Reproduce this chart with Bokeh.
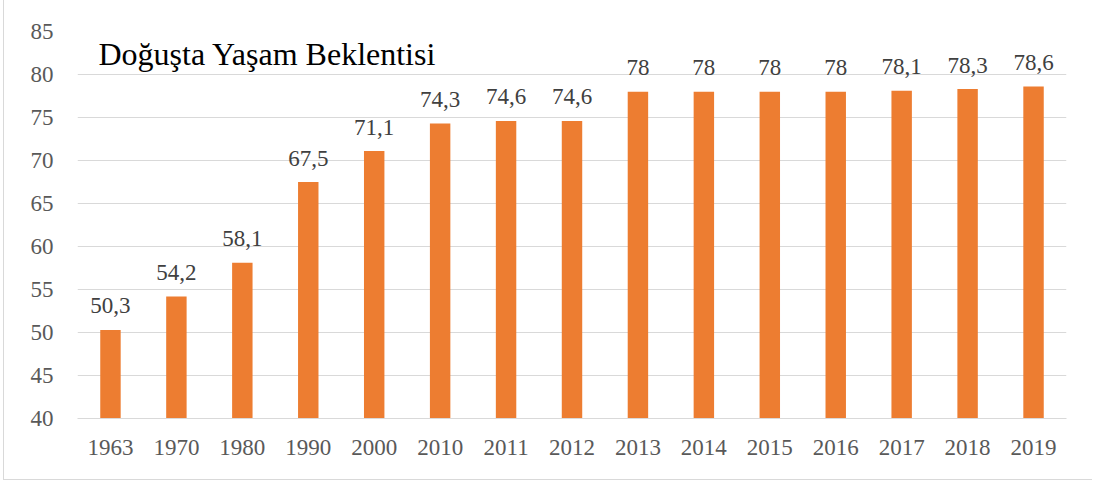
from bokeh.plotting import figure
from bokeh.models import ColumnDataSource, FixedTicker, Label, Range1d, FactorRange
from bokeh.embed import file_html
from bokeh.resources import INLINE
from bokeh.core.properties import value

years = ["1963", "1970", "1980", "1990", "2000", "2010", "2011", "2012",
         "2013", "2014", "2015", "2016", "2017", "2018", "2019"]
life_exp = [50.3, 54.2, 58.1, 67.5, 71.1, 74.3, 74.6, 74.6,
            78.0, 78.0, 78.0, 78.0, 78.1, 78.3, 78.6]
y_ticks = [40, 45, 50, 55, 60, 65, 70, 75, 80, 85]
title_text = "Doğuşta Yaşam Beklentisi"

labels = [f"{v:g}".replace(".", ",") for v in life_exp]
src = ColumnDataSource(dict(year=years, val=life_exp, lab=labels))

FONT = "'Liberation Serif', 'Times New Roman', serif"

p = figure(x_range=FactorRange(*years, range_padding=0), y_range=Range1d(40, 85),
           width=1089, height=480, output_backend="svg", toolbar_location=None,
           min_border_left=73, min_border_right=27, min_border_top=31, min_border_bottom=62)
p.x_range.range_padding = 0
p.outline_line_color = None
p.background_fill_color = "white"
p.border_fill_color = "white"
p.styles = {"border-left": "1px solid #d9d9d9", "border-bottom": "1px solid #d9d9d9",
            "margin-left": "3px"}

p.vbar(x="year", top="val", bottom=40, width=0.31, source=src,
       fill_color="#ED7D31", line_color=None)

p.text(x="year", y="val", text="lab", source=src, text_align="center",
       text_baseline="alphabetic", y_offset=-24, text_font=value(FONT),
       text_font_size="23px", text_color="#404040")

p.add_layout(Label(x=0.318, y=82.4, text=title_text, text_font=FONT,
                   text_font_size="32px", text_color="#000000",
                   text_baseline="alphabetic", text_align="left"))

p.yaxis.ticker = FixedTicker(ticks=y_ticks)
p.ygrid.ticker = FixedTicker(ticks=y_ticks)
p.ygrid.grid_line_color = "#d9d9d9"
p.ygrid.grid_line_width = 1
p.xgrid.grid_line_color = None

p.yaxis.axis_line_color = None
p.yaxis.major_tick_line_color = None
p.yaxis.minor_tick_line_color = None
p.yaxis.major_label_standoff = 18
p.xaxis.axis_line_color = "#d9d9d9"
p.xaxis.major_tick_line_color = None
p.xaxis.minor_tick_line_color = None
p.xaxis.major_label_standoff = 15
for ax in (p.xaxis, p.yaxis):
    ax.major_label_text_font = FONT
    ax.major_label_text_font_size = "23px"
    ax.major_label_text_color = "#595959"

open("out.html", "w").write(file_html(p, INLINE))
